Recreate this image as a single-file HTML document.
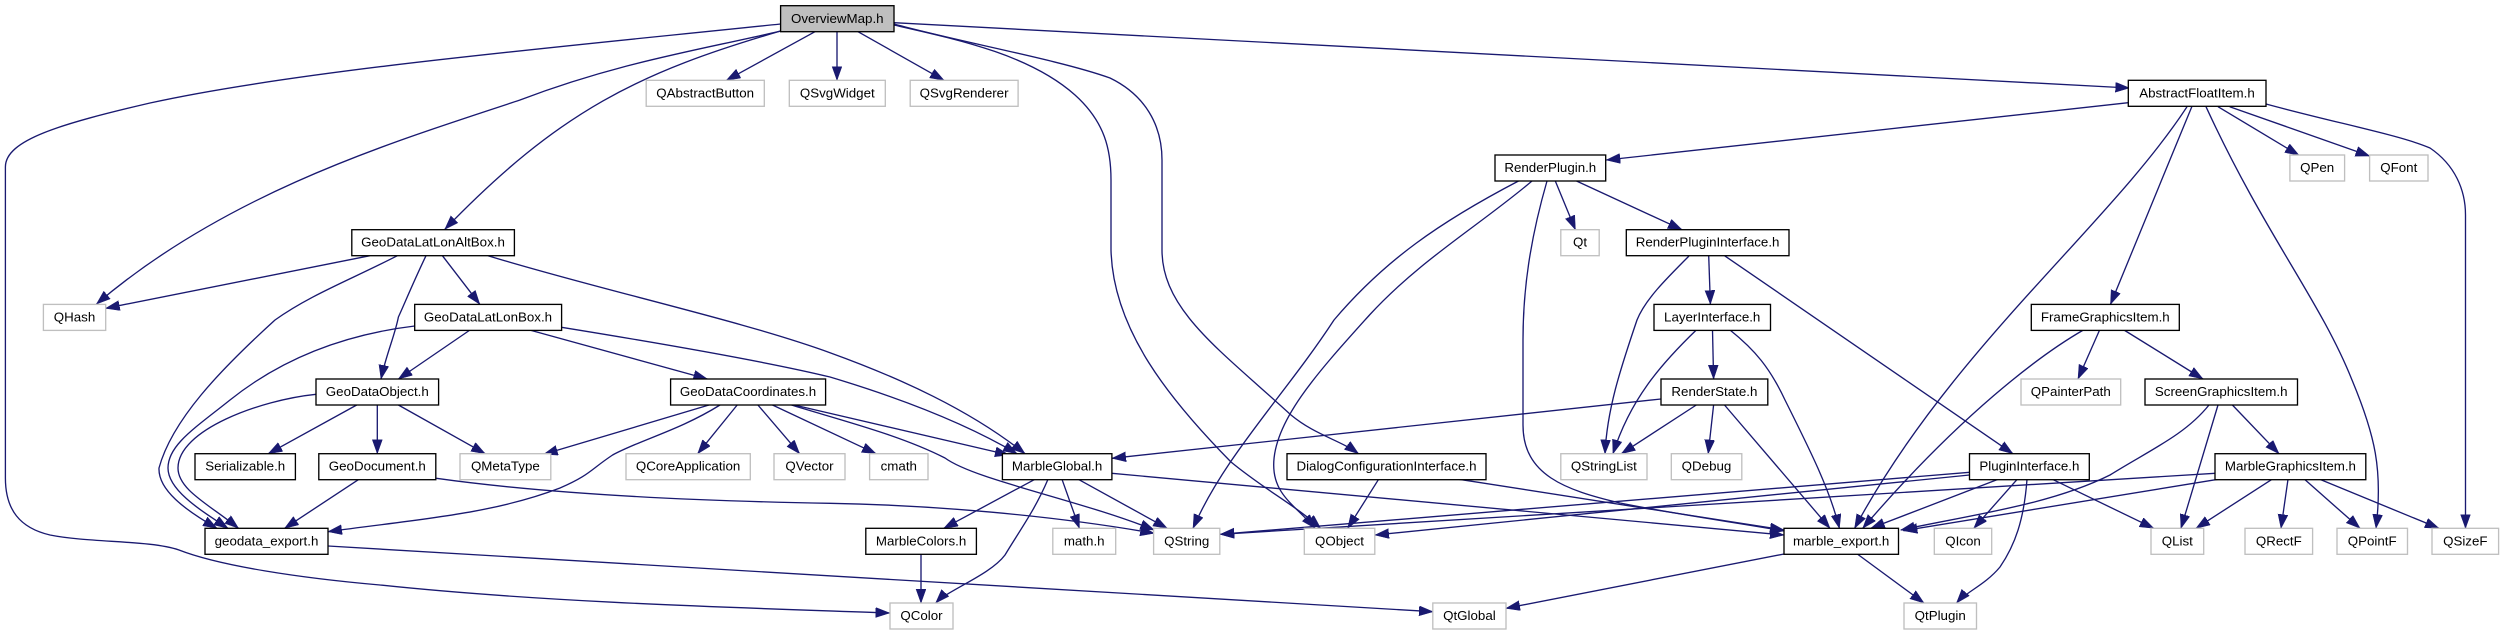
<!DOCTYPE html>
<html><head><meta charset="utf-8"><style>
html,body{margin:0;padding:0;background:#fff}
svg{display:block}
text{font-family:"Liberation Sans",sans-serif;font-size:13.33px;text-anchor:middle;fill:#000}
.e path{fill:none;stroke:#191970;stroke-width:1.33;marker-end:url(#a)}
.b rect{fill:#fff;stroke:#000;stroke-width:1.33}
.g rect{fill:#fff;stroke:#bfbfbf;stroke-width:1.33}
</style></head><body>
<svg width="2504" height="635" viewBox="0 0 2504 635" xmlns="http://www.w3.org/2000/svg">
<defs><marker id="a" markerUnits="userSpaceOnUse" markerWidth="15" markerHeight="11" refX="14" refY="5" orient="auto"><path d="M0,0L14,5L0,10z" fill="#191970" stroke="#191970" stroke-width=".5"/></marker></defs>
<g class="e">
<path d="M780.6,24C560,47 300,70 150,103C60,124 5.4,140 5.4,167V478C5.4,510 20,528 50,535C90,543 150,540 179,550C220,566 300,578 380,585C550,603 750,608 889.6,613"/>
<path d="M780.6,31C700,50 620,62 520,100C400,140 230,190 96.5,304"/>
<path d="M780.6,31C640,72 560,110 444.8,229.3"/>
<path d="M815,31.7L726.4,80.3"/>
<path d="M837,31.7L837,80.3"/>
<path d="M858,31.7L944,80.3"/>
<path d="M894,25C960,40 1030,55 1075,95C1105,122 1111,150 1111,180V250C1113,330 1170,400 1231,462C1265,490 1295,505 1320.6,528.3"/>
<path d="M894,24C960,42 1060,60 1110,78C1145,95 1162,125 1162,160V250C1162,310 1220,350 1291,415C1315,435 1340,440 1358.5,453.7"/>
<path d="M894,22.7L2129.4,88"/>
<path d="M2128.3,102.7L1606.3,160"/>
<path d="M2187,106.7C2110,225 1950,350 1854.6,528.3"/>
<path d="M2191.8,106.7L2110.5,304.3"/>
<path d="M2206,106.7C2265,235 2320,300 2352,380C2375,435 2383,470 2376,528.3"/>
<path d="M2218,106.7L2299,155.3"/>
<path d="M2229.7,106.7L2369.6,156"/>
<path d="M2266,104C2340,124 2400,135 2430,148C2455,165 2465.5,190 2465.5,215V528.3"/>
<path d="M1518.5,181C1440,222 1385,260 1334,320C1285,395 1225,455 1193,528.3"/>
<path d="M1532,181C1480,225 1420,260 1369.5,315C1320,370 1273.7,420 1273.7,465C1273.7,495 1295,505 1315,528.3"/>
<path d="M1547,181C1530,240 1523,290 1523,340V425C1523,475 1565,490 1620,503C1680,515 1740,523 1784,531"/>
<path d="M1555.3,181L1575.4,229.7"/>
<path d="M1576.5,181L1682,229.7"/>
<path d="M1689,256C1665,280 1645,300 1637,320C1620,370 1607,410 1605,453.7"/>
<path d="M1708.7,255.7L1710.4,304.3"/>
<path d="M1724.5,255.7L2012.9,453.7"/>
<path d="M1696.3,330C1660,365 1630,400 1613,453.7"/>
<path d="M1712.5,330L1713.6,379"/>
<path d="M1730,330C1755,350 1770,368 1785,400C1810,450 1830,490 1839.4,528.3"/>
<path d="M1661,399L1112,458.3"/>
<path d="M1696.3,405L1621.4,453.7"/>
<path d="M1713.6,405L1708.2,453.7"/>
<path d="M1724.5,405L1830,528.3"/>
<path d="M2083.4,330C2040,355 1960,415 1862.7,528.3"/>
<path d="M2099.6,330L2078,379"/>
<path d="M2124,330L2203,379"/>
<path d="M2209,405C2185,435 2150,450 2110,475C2050,505 1970,515 1900.8,530"/>
<path d="M2218,405L2181,528.3"/>
<path d="M2232.4,405L2279,453.7"/>
<path d="M1969.5,472.3L1220.3,534.3"/>
<path d="M2215,473.3L1220.3,534.3"/>
<path d="M1969.5,475L1375,535"/>
<path d="M1998.2,479.3L1870.8,528.3"/>
<path d="M2017.2,479.3L1973.8,528.3"/>
<path d="M2027,479.3C2024,520 2015,545 2000,567C1985,585 1966,592 1956.5,603"/>
<path d="M2052.4,479.3L2153.8,528.3"/>
<path d="M2218,479.3L1903.4,530.7"/>
<path d="M2272,479.3L2196,528.3"/>
<path d="M2288,479.3L2281,528.3"/>
<path d="M2304.5,479.3L2360,528.3"/>
<path d="M2319.7,479.3L2439,528.3"/>
<path d="M1784,554L1506,608.3"/>
<path d="M1857.3,554L1924,603"/>
<path d="M370,255.7L105.7,308.3"/>
<path d="M426,255.7C412,285 404,305 398.4,317C395,335 386,355 381,379"/>
<path d="M442.4,255.7L479.8,304.3"/>
<path d="M397.4,255.7C350,280 310,295 275,320C220,370 172,420 159,468C158,490 185,510 217,528.3"/>
<path d="M488,255.7C600,290 740,320 830,352.7C900,378 970,410 1025,453.7"/>
<path d="M470,330L398.4,379"/>
<path d="M529.6,330L707.4,379"/>
<path d="M414.7,326C340,335 280,360 230,400C195,428 168,445 168,468C168,490 200,510 228,528.3"/>
<path d="M561.6,327.3C640,340 760,360 830,377C890,395 960,420 1017,453.7"/>
<path d="M316,394.3C260,400 178,430 178,468C178,490 210,505 238.5,528.3"/>
<path d="M356.7,405L268.3,453.7"/>
<path d="M377.3,405L377.3,453.7"/>
<path d="M398.4,405L485.2,453.7"/>
<path d="M358.9,479.3L284.6,528.3"/>
<path d="M436.4,478.3C520,490 640,500 830,503.3C930,505 1050,515 1154.2,533.3"/>
<path d="M709,405L543.7,454.3"/>
<path d="M720,405C680,430 640,440 612.6,455C590,470 590,475 560,488C490,515 410,520 328,531.7"/>
<path d="M737.2,405L697.7,453.7"/>
<path d="M757.9,405L799.6,453.7"/>
<path d="M772.5,405L876,453.7"/>
<path d="M794.2,405L1009,455"/>
<path d="M791.5,405C840,420 900,435 945,458C975,480 1080,500 1154.2,530"/>
<path d="M1112,473.3L1784,535"/>
<path d="M1034.9,479.3L943.8,528.3"/>
<path d="M1062,479.3L1079.4,528.3"/>
<path d="M1078.3,479.3L1167.2,528.3"/>
<path d="M1048,479.3C1035,510 1020,530 1005,555C990,575 948,590 935.7,603"/>
<path d="M921,554L921,603"/>
<path d="M328,546L1433,611.7"/>
<path d="M1459,479.3L1784,530"/>
<path d="M1378.6,479.3L1347.7,528.3"/>
</g>
<g class="b">
<rect x="780.6" y="5.7" width="113.4" height="26" style="fill:#bfbfbf"/><text x="837.3" y="23">OverviewMap.h</text>
<rect x="2128.3" y="80.3" width="137.7" height="26"/><text x="2197" y="97.5">AbstractFloatItem.h</text>
<rect x="1495" y="155" width="110.7" height="26"/><text x="1550.3" y="172">RenderPlugin.h</text>
<rect x="351.8" y="229.7" width="162.6" height="26"/><text x="433" y="246.7">GeoDataLatLonAltBox.h</text>
<rect x="1626.3" y="229.7" width="162.7" height="26"/><text x="1707.6" y="246.7">RenderPluginInterface.h</text>
<rect x="414.7" y="304.4" width="146.9" height="26"/><text x="488" y="321.4">GeoDataLatLonBox.h</text>
<rect x="1654" y="304.4" width="116.5" height="26"/><text x="1712.2" y="321.4">LayerInterface.h</text>
<rect x="2031.3" y="304.4" width="148" height="26"/><text x="2105.3" y="321.4">FrameGraphicsItem.h</text>
<rect x="316" y="379" width="122.6" height="26"/><text x="377.3" y="396">GeoDataObject.h</text>
<rect x="670.6" y="379" width="155" height="26"/><text x="748" y="396">GeoDataCoordinates.h</text>
<rect x="1661" y="379" width="106.8" height="26"/><text x="1714.4" y="396">RenderState.h</text>
<rect x="2145" y="379" width="152.5" height="26"/><text x="2221.2" y="396">ScreenGraphicsItem.h</text>
<rect x="195" y="453.7" width="100.4" height="26"/><text x="245.2" y="470.7">Serializable.h</text>
<rect x="318.8" y="453.7" width="117" height="26"/><text x="377.3" y="470.7">GeoDocument.h</text>
<rect x="1002.4" y="453.7" width="109.5" height="26"/><text x="1057.1" y="470.7">MarbleGlobal.h</text>
<rect x="1287" y="453.7" width="199" height="26"/><text x="1386.5" y="470.7">DialogConfigurationInterface.h</text>
<rect x="1969.5" y="453.7" width="119.8" height="26"/><text x="2029.4" y="470.7">PluginInterface.h</text>
<rect x="2215" y="453.7" width="150.8" height="26"/><text x="2290.4" y="470.7">MarbleGraphicsItem.h</text>
<rect x="205" y="528.3" width="123" height="26"/><text x="266.5" y="545.3">geodata_export.h</text>
<rect x="865.8" y="528.3" width="110.6" height="26"/><text x="921.1" y="545.3">MarbleColors.h</text>
<rect x="1784" y="528.3" width="114.5" height="26"/><text x="1841.2" y="545.3">marble_export.h</text>
</g>
<g class="g">
<rect x="646.2" y="80.3" width="118.1" height="26"/><text x="705.2" y="97.5">QAbstractButton</text>
<rect x="789.3" y="80.3" width="96" height="26"/><text x="837.3" y="97.5">QSvgWidget</text>
<rect x="910.2" y="80.3" width="107.9" height="26"/><text x="964.1" y="97.5">QSvgRenderer</text>
<rect x="2289.9" y="155" width="54.7" height="26"/><text x="2317.2" y="172">QPen</text>
<rect x="2369.6" y="155" width="58.4" height="26"/><text x="2398.8" y="172">QFont</text>
<rect x="1560.8" y="229.7" width="38.4" height="26"/><text x="1580" y="246.7">Qt</text>
<rect x="43.4" y="304.4" width="62.3" height="26"/><text x="74.5" y="321.4">QHash</text>
<rect x="2021" y="379" width="99.7" height="26"/><text x="2070.8" y="396">QPainterPath</text>
<rect x="460" y="453.7" width="90.8" height="26"/><text x="505.4" y="470.7">QMetaType</text>
<rect x="626" y="453.7" width="124.3" height="26"/><text x="688.1" y="470.7">QCoreApplication</text>
<rect x="774" y="453.7" width="71" height="26"/><text x="809.5" y="470.7">QVector</text>
<rect x="869.6" y="453.7" width="58.4" height="26"/><text x="898.8" y="470.7">cmath</text>
<rect x="1560.8" y="453.7" width="86.2" height="26"/><text x="1603.9" y="470.7">QStringList</text>
<rect x="1671.3" y="453.7" width="70.5" height="26"/><text x="1706.5" y="470.7">QDebug</text>
<rect x="1052.8" y="528.3" width="62.9" height="26"/><text x="1084.2" y="545.3">math.h</text>
<rect x="1153.6" y="528.3" width="66.2" height="26"/><text x="1186.7" y="545.3">QString</text>
<rect x="1304.3" y="528.3" width="70.5" height="26"/><text x="1339.5" y="545.3">QObject</text>
<rect x="1934.3" y="528.3" width="57.4" height="26"/><text x="1963" y="545.3">QIcon</text>
<rect x="2151" y="528.3" width="52.7" height="26"/><text x="2177.3" y="545.3">QList</text>
<rect x="2245" y="528.3" width="67.6" height="26"/><text x="2278.8" y="545.3">QRectF</text>
<rect x="2337" y="528.3" width="70.5" height="26"/><text x="2372.2" y="545.3">QPointF</text>
<rect x="2432" y="528.3" width="66.6" height="26"/><text x="2465.3" y="545.3">QSizeF</text>
<rect x="890" y="603" width="63" height="26"/><text x="921.5" y="620">QColor</text>
<rect x="1432.8" y="603" width="73.2" height="26"/><text x="1469.4" y="620">QtGlobal</text>
<rect x="1904" y="603" width="72.5" height="26"/><text x="1940.2" y="620">QtPlugin</text>
</g>
</svg>
</body></html>
